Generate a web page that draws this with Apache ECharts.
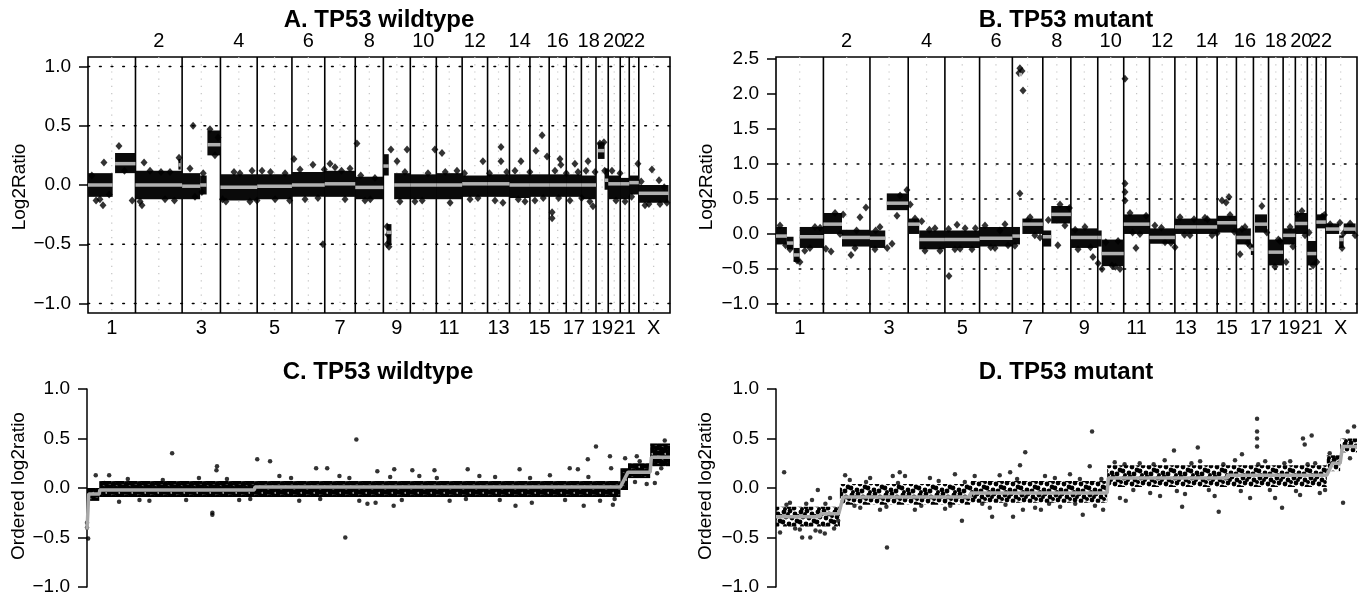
<!DOCTYPE html>
<html>
<head>
<meta charset="utf-8">
<script src="https://cdn.jsdelivr.net/npm/echarts@6/dist/echarts.min.js"></script>
<style>
  html, body { margin: 0; padding: 0; background: #fff; }
  #chart { width: 1361px; height: 598px; }
</style>
</head>
<body>
<div id="chart"></div>
<script>
// chromosome layout (Mb)
const chromNames = ["1", "2", "3", "4", "5", "6", "7", "8", "9", "10", "11", "12",
  "13", "14", "15", "16", "17", "18", "19", "20", "21", "22", "X"];
const chromLenMb = [247.2, 242.8, 199.5, 191.3, 180.9, 170.9, 158.8, 146.3, 140.3,
  135.4, 134.5, 132.3, 114.1, 106.4, 100.3, 88.8, 78.8, 76.1, 63.8, 62.4, 46.9, 49.7, 154.9];
const genomeMaxMb = 3030;

const yTicksWt = [-1, -0.5, 0, 0.5, 1];
const yTicksMut = [-1, -0.5, 0, 0.5, 1, 1.5, 2, 2.5];
const refLevels = [-1, -0.5, 0.5, 1];

// segments: [chrom, startFrac, endFrac, segment mean, cloud low, cloud high]
const segmentsA = [
  [1, 0.00, 0.52, 0.00, -0.10, 0.10], [1, 0.57, 1.00, 0.18, 0.10, 0.27],
  [2, 0.00, 1.00, 0.00, -0.12, 0.12], [2, 0.92, 0.97, 0.17, 0.13, 0.22],
  [3, 0.00, 0.47, -0.01, -0.12, 0.10], [3, 0.47, 0.64, 0.00, -0.08, 0.08],
  [3, 0.66, 1.00, 0.34, 0.25, 0.46],
  [4, 0.00, 1.00, -0.02, -0.13, 0.09], [5, 0.00, 1.00, -0.01, -0.12, 0.09],
  [6, 0.00, 1.00, 0.00, -0.10, 0.11], [7, 0.00, 1.00, 0.01, -0.10, 0.12],
  [8, 0.00, 1.00, -0.02, -0.12, 0.07],
  [9, 0.00, 0.20, 0.16, 0.08, 0.26], [9, 0.12, 0.30, -0.40, -0.50, -0.33],
  [9, 0.40, 1.00, 0.00, -0.12, 0.10],
  [10, 0.00, 1.00, 0.00, -0.12, 0.09], [11, 0.00, 1.00, 0.00, -0.12, 0.10],
  [12, 0.00, 1.00, 0.01, -0.10, 0.08], [13, 0.00, 1.00, 0.01, -0.10, 0.09],
  [14, 0.00, 1.00, 0.00, -0.11, 0.09], [15, 0.00, 1.00, 0.00, -0.10, 0.09],
  [16, 0.00, 1.00, 0.00, -0.10, 0.09], [17, 0.00, 1.00, 0.00, -0.10, 0.09],
  [18, 0.00, 1.00, 0.00, -0.12, 0.08],
  [19, 0.15, 0.70, 0.29, 0.22, 0.36], [19, 0.70, 1.00, 0.04, -0.04, 0.14],
  [20, 0.00, 1.00, 0.01, -0.12, 0.08], [21, 0.00, 1.00, 0.01, -0.12, 0.06],
  [22, 0.00, 1.00, 0.02, -0.08, 0.08], [23, 0.00, 1.00, -0.07, -0.15, 0.00]
];
// scattered probes outside the dense clouds: [genome Mb, log2 ratio]
const outliersA = [
  [83, 0.19], [78, -0.17], [161, 0.33], [292, 0.19], [281, -0.17], [474, 0.23], [547, 0.5],
  [1072, 0.22], [1171, 0.17], [1223, -0.5], [1260, 0.18], [1400, 0.35], [1577, 0.30],
  [1557, -0.50], [1567, -0.52], [1557, -0.35], [1562, -0.42], [1609, 0.20], [1661, 0.30],
  [1806, 0.30], [1843, 0.27], [2056, 0.20], [2150, 0.32], [2150, 0.20], [2160, -0.15],
  [2254, 0.20], [2364, 0.42], [2332, 0.29], [2390, 0.24], [2416, -0.23], [2416, -0.28],
  [2457, 0.22], [2462, 0.17], [2535, 0.18], [2603, 0.20], [2629, -0.18], [2863, 0.18],
  [2936, 0.13], [2973, 0.04], [2665, 0.35], [2686, 0.36],
  [42, -0.13], [62, -0.12], [271, -0.14], [323, 0.12], [401, -0.12], [427, 0.11], [531, 0.14],
  [557, -0.10], [593, -0.06], [635, 0.47], [661, 0.25], [677, 0.40], [718, -0.14], [791, 0.10],
  [843, -0.14], [854, 0.12], [906, 0.12], [974, -0.12], [1026, 0.10], [1104, 0.13],
  [1197, -0.11], [1286, 0.15], [1338, -0.12], [1364, 0.14], [1442, -0.13], [1494, 0.06],
  [1624, -0.14], [1702, -0.14], [1770, 0.10], [1885, -0.15], [1921, 0.12], [1989, -0.12],
  [2119, -0.13], [2223, 0.12], [2275, -0.14], [2327, -0.13], [2431, 0.12], [2509, -0.13],
  [2551, 0.11], [2593, 0.12], [2613, -0.14], [2728, 0.12], [2749, -0.13], [2796, -0.14],
  [2900, -0.17], [2978, -0.16], [3014, -0.15],
  [20, 0.08], [110, -0.08], [190, 0.12], [230, -0.13], [380, 0.11], [450, -0.13], [600, 0.10],
  [700, -0.12], [760, 0.11], [880, -0.13], [950, 0.11], [1050, -0.13], [1130, -0.12],
  [1230, 0.13], [1320, 0.12], [1420, 0.08], [1470, -0.12], [1650, 0.11], [1740, -0.13],
  [1860, 0.11], [1960, 0.10], [2030, -0.11], [2090, 0.10], [2180, 0.11], [2240, -0.12],
  [2300, 0.11], [2370, -0.11], [2450, -0.11], [2490, 0.10], [2570, -0.11], [2640, 0.11],
  [2690, 0.12], [2770, 0.10], [2830, -0.10], [2880, 0.03], [2920, -0.16], [3000, -0.02]
];

const segmentsB = [
  [1, 0.00, 0.23, -0.03, -0.15, 0.10], [1, 0.23, 0.37, -0.13, -0.22, -0.04],
  [1, 0.37, 0.50, -0.30, -0.40, -0.20], [1, 0.50, 1.00, -0.04, -0.20, 0.10],
  [2, 0.00, 0.40, 0.14, 0.00, 0.30], [2, 0.40, 1.00, -0.05, -0.18, 0.06],
  [3, 0.00, 0.40, -0.06, -0.20, 0.05], [3, 0.44, 1.00, 0.44, 0.34, 0.58],
  [4, 0.00, 0.30, 0.14, 0.00, 0.22], [4, 0.30, 1.00, -0.08, -0.22, 0.05],
  [5, 0.00, 1.00, -0.08, -0.20, 0.05], [6, 0.00, 1.00, -0.06, -0.18, 0.10],
  [7, 0.00, 0.25, -0.03, -0.15, 0.10], [7, 0.22, 0.32, 2.28, 2.28, 2.28],
  [7, 0.33, 1.00, 0.14, 0.00, 0.22],
  [8, 0.00, 0.30, -0.04, -0.18, 0.05], [8, 0.30, 1.00, 0.28, 0.15, 0.40],
  [9, 0.00, 1.00, -0.05, -0.20, 0.08],
  [10, 0.00, 0.15, -0.05, -0.18, 0.05], [10, 0.15, 1.00, -0.28, -0.46, -0.08],
  [11, 0.00, 1.00, 0.14, 0.00, 0.28], [12, 0.00, 1.00, -0.05, -0.14, 0.08],
  [13, 0.00, 1.00, 0.10, 0.00, 0.22], [14, 0.00, 1.00, 0.10, 0.00, 0.22],
  [15, 0.00, 1.00, 0.16, 0.02, 0.26],
  [16, 0.00, 0.85, -0.05, -0.15, 0.08], [16, 0.85, 1.00, -0.22, -0.30, -0.15],
  [17, 0.10, 0.90, 0.14, 0.02, 0.28], [18, 0.00, 1.00, -0.26, -0.45, -0.08],
  [19, 0.00, 1.00, -0.02, -0.15, 0.08], [20, 0.00, 1.00, 0.15, 0.00, 0.30],
  [21, 0.00, 1.00, -0.28, -0.45, -0.10], [22, 0.00, 1.00, 0.17, 0.08, 0.28],
  [23, 0.00, 0.45, 0.07, 0.00, 0.15], [23, 0.45, 0.60, -0.08, -0.20, -0.02],
  [23, 0.60, 1.00, 0.07, 0.00, 0.15]
];
const outliersB = [
  [287, -0.25], [391, -0.30], [438, 0.24], [469, 0.38], [542, 0.10], [605, -0.14], [631, 0.26],
  [683, 0.63], [902, -0.60], [944, 0.13], [1168, 0.05], [1272, 0.58], [1288, 2.05], [1272, 2.37],
  [1283, 2.33], [1267, 2.30], [1653, -0.33], [1820, 2.22], [1820, 0.72], [1820, 0.60],
  [1820, 0.48], [1877, -0.20], [2081, -0.19], [2326, 0.48], [2362, 0.53], [2347, 0.45],
  [2420, -0.29], [2534, 0.40], [2696, -0.18], [2941, 0.16], [2952, -0.20], [1752, -0.45],
  [1794, -0.50], [110, -0.38], [125, -0.40],
  [21, 0.12], [73, -0.22], [177, -0.20], [203, 0.10], [308, 0.30], [334, 0.00], [412, -0.20],
  [516, -0.22], [647, 0.55], [725, 0.22], [777, -0.24], [829, 0.08], [855, -0.24], [933, -0.22],
  [986, 0.08], [1022, -0.22], [1090, 0.12], [1142, -0.20], [1194, 0.14], [1246, -0.17],
  [1325, 0.24], [1377, -0.05], [1481, 0.42], [1507, 0.12], [1575, -0.22], [1611, 0.10],
  [1700, -0.50], [1784, -0.10], [1846, 0.30], [1898, 0.00], [1976, 0.12], [2029, -0.12],
  [2107, 0.24], [2159, -0.02], [2237, 0.23], [2274, -0.02], [2368, 0.27], [2446, 0.10],
  [2472, -0.17], [2602, -0.47], [2628, -0.10], [2681, 0.10], [2743, 0.33], [2759, -0.02],
  [2801, -0.45], [2848, 0.25], [2994, 0.15], [3020, -0.02],
  [50, -0.16], [150, -0.24], [230, 0.09], [260, -0.21], [350, 0.28], [420, 0.05], [520, 0.05],
  [580, -0.20], [700, 0.42], [760, 0.18], [800, 0.06], [900, 0.07], [960, -0.21], [1040, 0.08],
  [1120, -0.19], [1210, -0.16], [1310, 0.19], [1350, -0.02], [1420, 0.20], [1470, -0.16],
  [1530, 0.37], [1560, 0.06], [1640, -0.19], [1680, -0.42], [1720, -0.12], [1770, -0.47],
  [1860, 0.02], [1930, 0.26], [2010, 0.09], [2060, -0.13], [2130, -0.01], [2180, 0.21],
  [2250, 0.21], [2300, 0.01], [2390, 0.03], [2430, 0.07], [2460, -0.13], [2560, 0.02],
  [2620, -0.08], [2660, -0.40], [2720, 0.28], [2780, 0.02], [2820, -0.40], [2860, 0.27],
  [2890, 0.14], [2960, 0.01]
];

// ordered panels: x = probe rank (per mille of probes)
// bands: [rank from, rank to, cloud low, cloud high]
const bandsC = [[0, 21, -0.13, 0.00], [21, 915, -0.09, 0.07], [915, 928, -0.02, 0.20],
  [928, 966, 0.10, 0.25], [966, 1000, 0.22, 0.45]];
const meanLineC = [[0, -0.42], [2, -0.42], [3, -0.06], [21, -0.06], [22, -0.02], [287, -0.02],
  [288, 0.01], [915, 0.01], [928, 0.16], [966, 0.16], [968, 0.31], [1000, 0.31]];
const pointsC = [
  [15, 0.13], [38, 0.13], [146, 0.35], [215, -0.25], [215, -0.27], [223, 0.22], [222, 0.18],
  [292, 0.29], [314, 0.27], [393, 0.20], [412, 0.20], [0, -0.35], [2, -0.51], [0, -0.40],
  [462, 0.49], [443, -0.50], [498, 0.17], [527, 0.19], [558, 0.18], [596, 0.18], [653, 0.19],
  [742, 0.19], [828, 0.20], [842, 0.19], [859, 0.29], [873, 0.42], [897, 0.32], [899, 0.20],
  [923, 0.30], [943, 0.32], [526, -0.18], [481, -0.16], [495, -0.15], [735, -0.18],
  [763, -0.15], [852, -0.18], [902, -0.17], [960, 0.04], [978, 0.15],
  [55, -0.14], [107, -0.13], [192, 0.10], [261, -0.12], [330, 0.12], [364, -0.13], [433, 0.12],
  [467, -0.13], [570, 0.12], [622, -0.13], [673, 0.12], [708, -0.12], [794, 0.13], [880, -0.13],
  [948, 0.27], [974, 0.05], [991, 0.48],
  [30, 0.05], [70, 0.09], [90, -0.12], [130, 0.08], [170, -0.12], [240, 0.09], [280, -0.11],
  [350, 0.10], [400, -0.11], [450, 0.10], [520, 0.11], [540, -0.12], [600, 0.10], [650, -0.11],
  [700, 0.11], [760, 0.10], [820, -0.12], [860, 0.11], [905, -0.11], [940, 0.06], [985, 0.20]
];

const bandsD = [[0, 110, -0.39, -0.19], [110, 334, -0.17, 0.04], [334, 570, -0.15, 0.07],
  [570, 948, 0.01, 0.23], [948, 971, 0.17, 0.33], [971, 1000, 0.36, 0.50]];
const meanLineD = [[0, -0.29], [76, -0.29], [77, -0.26], [108, -0.26], [112, -0.17],
  [116, -0.09], [334, -0.09], [335, -0.05], [570, -0.05], [572, 0.10], [776, 0.10],
  [777, 0.13], [948, 0.13], [958, 0.25], [971, 0.25], [975, 0.42], [1000, 0.42]];
const pointsD = [
  [14, 0.16], [72, -0.02], [119, 0.13], [191, -0.60], [320, -0.33], [372, -0.29], [408, -0.29],
  [45, -0.50], [59, -0.50], [84, -0.46], [201, 0.12], [213, 0.16], [420, 0.23], [429, 0.36],
  [544, 0.57], [540, 0.22], [685, 0.38], [726, 0.41], [802, 0.34], [828, 0.70], [828, 0.57],
  [828, 0.50], [828, 0.42], [907, 0.50], [922, 0.53], [910, 0.44], [984, 0.57], [995, 0.62],
  [976, -0.15], [699, -0.19], [762, -0.24], [871, -0.20], [528, -0.27], [456, -0.22],
  [425, -0.22], [563, -0.22], [661, -0.08], [602, -0.13],
  [7, -0.45], [24, -0.15], [41, -0.42], [62, -0.12], [76, -0.44], [93, -0.10], [107, -0.33],
  [127, 0.08], [145, -0.20], [162, 0.10], [179, -0.22], [222, 0.12], [239, -0.22], [265, 0.10],
  [291, -0.21], [308, 0.14], [342, 0.12], [368, -0.20], [385, 0.13], [403, 0.16], [446, -0.20],
  [463, 0.12], [489, -0.19], [506, 0.14], [523, 0.09], [549, -0.18], [583, 0.26], [592, -0.10],
  [626, 0.25], [644, -0.05], [669, 0.28], [704, -0.06], [730, 0.27], [755, -0.08], [790, 0.28],
  [816, -0.10], [842, 0.27], [859, -0.10], [885, 0.27], [902, -0.07], [928, 0.25], [936, -0.05],
  [953, 0.35], [964, 0.30], [988, 0.30],
  [18, -0.17], [33, -0.41], [52, -0.16], [68, -0.43], [85, -0.16], [100, -0.41], [135, -0.18],
  [155, 0.06], [190, -0.19], [210, 0.05], [250, -0.18], [280, 0.07], [300, -0.18], [325, 0.06],
  [355, -0.16], [395, -0.17], [415, 0.09], [470, -0.16], [480, 0.10], [515, -0.16], [560, 0.09],
  [600, 0.24], [615, -0.02], [650, 0.24], [690, -0.03], [715, 0.25], [745, -0.02], [770, 0.24],
  [800, -0.03], [830, 0.24], [850, -0.02], [875, 0.25], [895, -0.03], [915, 0.24], [945, -0.02]
];

// ---------------------------------------------------------------------------
const FONT = '"Liberation Sans", Arial, Helvetica, sans-serif';
const RANGE_WT = [-1.08, 1.08];
const RANGE_MUT = [-1.13, 2.53];

const chromStart = [];
let acc = 0;
chromLenMb.forEach((len) => {
  chromStart.push(acc);
  acc += len;
});
const chromEnd = chromStart.map((s, i) => s + chromLenMb[i]);
const chromMid = chromStart.map((s, i) => s + chromLenMb[i] / 2);

function fmtTick(v) {
  return (v < 0 ? "\u2212" : "") + Math.abs(v).toFixed(1);
}

function toGenome(segs) {
  return segs.map(([c, f0, f1, mean, lo, hi]) => {
    const s = chromStart[c - 1];
    const len = chromLenMb[c - 1];
    return [s + f0 * len, s + f1 * len, lo, hi, mean];
  });
}

// stipple texture for the speckled clouds of the ordered plots
function stipple(size, dots) {
  const c = document.createElement("canvas");
  c.width = size;
  c.height = size;
  const ctx = c.getContext("2d");
  ctx.fillStyle = "#000";
  dots.forEach(([x, y, r]) => {
    for (const dx of [-size, 0, size]) {
      for (const dy of [-size, 0, size]) {
        ctx.beginPath();
        ctx.arc(x + dx, y + dy, r, 0, Math.PI * 2);
        ctx.fill();
      }
    }
  });
  return { image: c, repeat: "repeat" };
}
const fillDense = stipple(13, [[1, 2, 2.7], [5, 1, 2.7], [9.5, 3, 2.7], [3, 5.5, 2.7], [7, 6, 2.7],
  [11.5, 7, 2.7], [0.5, 9, 2.7], [5, 10, 2.7], [9, 11, 2.7], [12, 12, 2.4]]);
const fillSparse = stipple(17, [[2, 2, 2.4], [8, 1, 2.4], [13, 4, 2.4], [4, 7, 2.4], [10, 8, 2.4],
  [15, 11, 2.4], [1, 12, 2.4], [7, 14, 2.4], [12, 15, 2.4], [6, 4, 2.0], [16, 6, 2.0], [3, 16, 2.0]]);

function vLines(xi, yi, xs, yr, style, z) {
  return {
    type: "custom", xAxisIndex: xi, yAxisIndex: yi, z, silent: true,
    data: xs.map((x) => [x, 0]),
    renderItem: (params, api) => {
      const a = api.coord([api.value(0), yr[1]]);
      const b = api.coord([api.value(0), yr[0]]);
      return { type: "line", shape: { x1: a[0], y1: a[1], x2: b[0], y2: b[1] }, style: Object.assign({}, style) };
    },
  };
}

function hLines(xi, yi, ys, xr, style, z) {
  return {
    type: "custom", xAxisIndex: xi, yAxisIndex: yi, z, silent: true,
    data: ys.map((y) => [0, y]),
    renderItem: (params, api) => {
      const a = api.coord([xr[0], api.value(1)]);
      const b = api.coord([xr[1], api.value(1)]);
      return { type: "line", shape: { x1: a[0], y1: a[1], x2: b[0], y2: b[1] }, style: Object.assign({}, style) };
    },
  };
}

function bands(xi, yi, data, fill, z) {
  return {
    type: "custom", xAxisIndex: xi, yAxisIndex: yi, z, silent: true,
    data: data,
    renderItem: (params, api) => {
      const p0 = api.coord([api.value(0), api.value(3)]);
      const p1 = api.coord([api.value(1), api.value(2)]);
      return {
        type: "rect",
        shape: { x: p0[0], y: p0[1], width: p1[0] - p0[0], height: p1[1] - p0[1] },
        style: { fill: fill },
      };
    },
  };
}

function means(xi, yi, data, z) {
  return {
    type: "custom", xAxisIndex: xi, yAxisIndex: yi, z, silent: true,
    data: data,
    renderItem: (params, api) => {
      const a = api.coord([api.value(0), api.value(4)]);
      const b = api.coord([api.value(1), api.value(4)]);
      return { type: "line", shape: { x1: a[0], y1: a[1], x2: b[0], y2: b[1] }, style: { stroke: "#b0b0b0", lineWidth: 3.5 } };
    },
  };
}

// chromosome names: even ones above the panel, odd ones and X below
function chromLabels(xi, yi, yr) {
  return {
    type: "custom", xAxisIndex: xi, yAxisIndex: yi, z: 10, silent: true, clip: false,
    data: chromMid.map((m, i) => [m, i]),
    renderItem: (params, api) => {
      const i = api.value(1);
      const top = i % 2 === 1;
      const p = api.coord([api.value(0), top ? yr[1] : yr[0]]);
      return {
        type: "text", x: p[0], y: p[1] + (top ? -16 : 15),
        style: {
          text: chromNames[i], fill: "#000", font: "20px " + FONT,
          align: "center", verticalAlign: "middle", textAlign: "center", textVerticalAlign: "middle",
        },
      };
    },
  };
}

function genomeAxis(gridIndex) {
  return { gridIndex, type: "value", min: 0, max: genomeMaxMb, show: false };
}

function ratioAxis(gridIndex, range, ticks, showLine) {
  return {
    gridIndex, type: "value", min: range[0], max: range[1],
    axisLine: { show: showLine, lineStyle: { color: "#000", width: 1.5 } },
    axisTick: { show: true, length: 9, customValues: ticks, lineStyle: { color: "#000", width: 1.5 } },
    axisLabel: { customValues: ticks, formatter: fmtTick, fontSize: 19, color: "#000", margin: 17, fontFamily: FONT },
    splitLine: { show: false },
  };
}

const boundaries = chromEnd.slice(0, -1);
const dotRef = { stroke: "#000", lineWidth: 1.6, lineDash: [1.6, 10], lineCap: "round" };
const dotGrid = { stroke: "#c4c4c4", lineWidth: 1.2, lineDash: [1.2, 6] };
const solidBorder = { stroke: "#000", lineWidth: 1.6 };

function genomePanel(xi, yi, range, segs, outliers) {
  const g = toGenome(segs);
  return [
    vLines(xi, yi, chromMid, range, dotGrid, 1),
    hLines(xi, yi, refLevels, [0, genomeMaxMb], dotRef, 2),
    vLines(xi, yi, boundaries, range, solidBorder, 3),
    bands(xi, yi, g.filter((d) => d[3] > d[2]), "#0a0a0a", 4),
    {
      type: "scatter", xAxisIndex: xi, yAxisIndex: yi, z: 5, silent: true,
      symbol: "diamond", symbolSize: [7, 8], itemStyle: { color: "#000" },
      data: outliers,
    },
    means(xi, yi, g, 6),
    chromLabels(xi, yi, range),
  ];
}

function orderedPanel(xi, yi, bandData, meanLine, points, fill) {
  return [
    bands(xi, yi, bandData, fill, 4),
    {
      type: "scatter", xAxisIndex: xi, yAxisIndex: yi, z: 5, silent: true,
      symbol: "circle", symbolSize: 4.5, itemStyle: { color: "#000" },
      data: points,
    },
    {
      type: "line", xAxisIndex: xi, yAxisIndex: yi, z: 6, silent: true,
      showSymbol: false, lineStyle: { color: "#a8a8a8", width: 3.5 },
      data: meanLine,
    },
  ];
}

function label(text, x, y, size, bold, rotate) {
  return {
    type: "text", x, y, rotation: rotate ? Math.PI / 2 : 0, silent: true,
    style: {
      text, fill: "#000", font: (bold ? "bold " : "") + size + "px " + FONT,
      align: "center", verticalAlign: "middle", textAlign: "center", textVerticalAlign: "middle",
    },
  };
}

const chart = echarts.init(document.getElementById("chart"), null, { renderer: "canvas" });
chart.setOption({
  animation: false,
  backgroundColor: "#fff",
  textStyle: { fontFamily: FONT },
  grid: [
    { left: 88, top: 57, width: 582, height: 256, show: true, borderColor: "#000", borderWidth: 1.6, backgroundColor: "transparent" },
    { left: 776, top: 57, width: 581, height: 256, show: true, borderColor: "#000", borderWidth: 1.6, backgroundColor: "transparent" },
    { left: 87, top: 389, width: 583, height: 198 },
    { left: 776, top: 389, width: 581, height: 198 },
  ],
  xAxis: [
    genomeAxis(0),
    genomeAxis(1),
    { gridIndex: 2, type: "value", min: 0, max: 1000, show: false },
    { gridIndex: 3, type: "value", min: 0, max: 1000, show: false },
  ],
  yAxis: [
    ratioAxis(0, RANGE_WT, yTicksWt, false),
    ratioAxis(1, RANGE_MUT, yTicksMut, false),
    ratioAxis(2, [-1, 1], yTicksWt, true),
    ratioAxis(3, [-1, 1], yTicksWt, true),
  ],
  graphic: [
    label("A. TP53 wildtype", 379, 20, 24, true),
    label("B. TP53 mutant", 1066, 20, 24, true),
    label("C. TP53 wildtype", 378, 372, 24, true),
    label("D. TP53 mutant", 1066, 372, 24, true),
    label("Log2Ratio", 20, 187, 19, false, true),
    label("Log2Ratio", 707, 187, 19, false, true),
    label("Ordered log2ratio", 19, 486, 19, false, true),
    label("Ordered log2ratio", 706, 486, 19, false, true),
  ],
  series: [
    ...genomePanel(0, 0, RANGE_WT, segmentsA, outliersA),
    ...genomePanel(1, 1, RANGE_MUT, segmentsB, outliersB),
    ...orderedPanel(2, 2, bandsC, meanLineC, pointsC, fillDense),
    ...orderedPanel(3, 3, bandsD, meanLineD, pointsD, fillSparse),
  ],
});
</script>
</body>
</html>
